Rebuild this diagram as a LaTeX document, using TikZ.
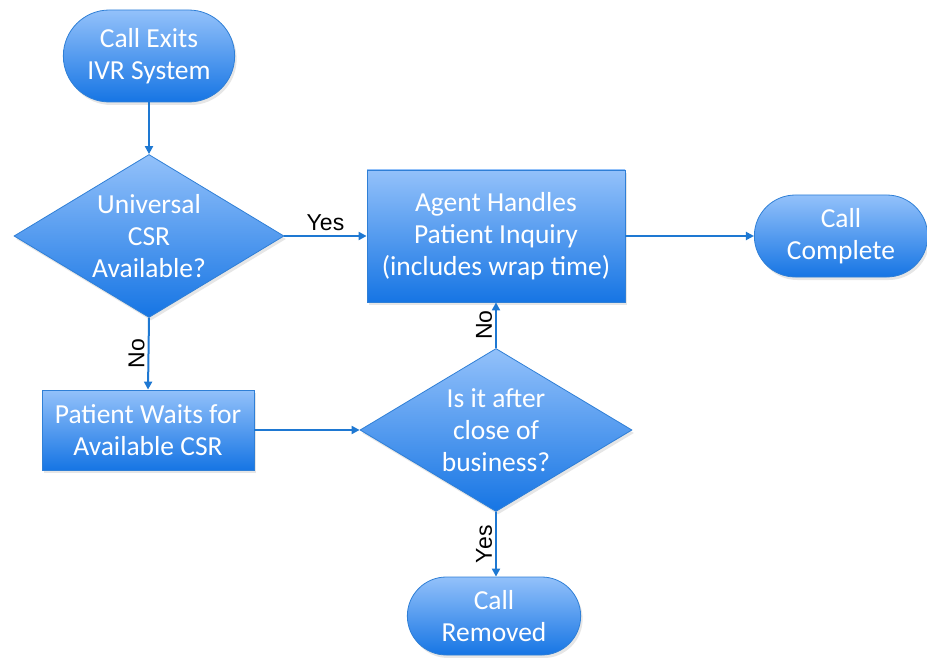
\documentclass[tikz,border=0pt]{standalone}
\usepackage{fontspec}
\setmainfont{Carlito}
\newfontfamily\labelfont{Liberation Sans}
\usetikzlibrary{positioning, arrows.meta, shapes.geometric, shapes.misc, shadows}
\definecolor{boxtop}{HTML}{93C1FA}
\definecolor{boxbottom}{HTML}{1675E4}
\definecolor{boxline}{HTML}{2F7FD6}
\definecolor{flowline}{HTML}{1E78D2}

\tikzset{
    shapebase/.style={draw=boxline, line width=0.8pt, top color=boxtop, bottom color=boxbottom,
        text=white, align=center, font=\fontsize{27.5}{32}\selectfont,
        drop shadow={opacity=0.2, shadow xshift=2pt, shadow yshift=-3pt}},
    terminal/.style={shapebase, rounded rectangle},
    process/.style={shapebase, rectangle},
    decision/.style={shapebase, diamond, aspect=1.66, inner sep=-2pt},
    flow/.style={draw=flowline, line width=2pt, -{Triangle[length=8pt, width=8pt]}},
    answer/.style={text=black, font=\labelfont\fontsize{23}{26}\selectfont},
}

\begin{document}
\begin{tikzpicture}[x=1pt, y=-1pt]
    \useasboundingbox (0,0) rectangle (927,658);
    \clip (0,0) rectangle (927,658);

    % Nodes
    \node[terminal, minimum width=178pt, minimum height=92pt] (exits) at (149,56) {Call Exits\\IVR System};
    \node[decision, minimum width=270pt, minimum height=163pt] (csr) at (149,236) {Universal\\CSR\\Available?};
    \node[process, minimum width=258pt, minimum height=132pt] (agent) at (496,236) {Agent Handles\\Patient Inquiry\\(includes wrap time)};
    \node[terminal, minimum width=180pt, minimum height=82pt] (complete) at (841,236) {Call\\Complete};
    \node[process, minimum width=212pt, minimum height=80pt] (waits) at (148,430) {Patient Waits for\\Available CSR};
    \node[decision, minimum width=272pt, minimum height=163pt] (closed) at (496,430) {Is it after\\close of\\business?};
    \node[terminal, minimum width=180pt, minimum height=78pt] (removed) at (494,616) {Call\\Removed};

    % Connectors
    \draw[flow] (exits.south) -- (csr.north);
    \draw[flow] (csr.east) -- node[answer, above=1pt] {Yes} (agent.west);
    \draw[flow] (agent.east) -- (complete.west);
    \draw[flow] (csr.south) -- node[answer, rotate=90, anchor=south, inner sep=3pt] {No} (waits.north);
    \draw[flow] (waits.east) -- (closed.west);
    \draw[flow] (closed.north) -- node[answer, rotate=90, anchor=south, inner sep=3pt] {No} (agent.south);
    \draw[flow] (closed.south) -- node[answer, rotate=90, anchor=south, inner sep=3pt] {Yes} (closed.south |- removed.north);
\end{tikzpicture}
\end{document}
